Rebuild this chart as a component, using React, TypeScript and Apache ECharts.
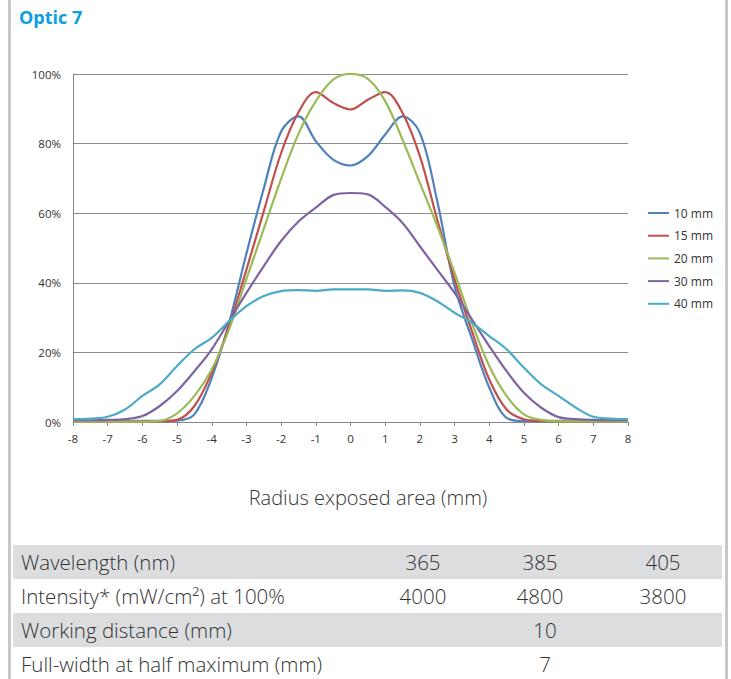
import React, { useEffect, useRef } from "react";
import * as echarts from "echarts";

const radius = [-8, -7.5, -7, -6.5, -6, -5.5, -5, -4.5, -4, -3.5, -3, -2.5, -2, -1.5, -1, -0.5, 0, 0.5, 1, 1.5, 2, 2.5, 3, 3.5, 4, 4.5, 5, 5.5, 6, 6.5, 7, 7.5, 8];

const mm10 = [0.3, 0.3, 0.3, 0.3, 0.3, 0.3, 0.4, 2.2, 12.7, 28.5, 48.4, 67.1, 83.5, 87.8, 80.7, 75.4, 73.7, 76.4, 82.6, 87.8, 83.1, 63.5, 39.0, 24.0, 9.9, 1.2, 0.3, 0.3, 0.3, 0.3, 0.3, 0.3, 0.3];
const mm15 = [0.2, 0.2, 0.2, 0.2, 0.2, 0.2, 0.6, 4.6, 14.2, 27.6, 43.8, 60.6, 77.3, 89.0, 94.8, 91.7, 89.8, 92.6, 94.8, 88.8, 76.4, 58.2, 41.0, 26.1, 12.2, 3.6, 0.8, 0.3, 0.2, 0.2, 0.2, 0.2, 0.2];
const mm20 = [0.1, 0.1, 0.1, 0.1, 0.1, 0.3, 2.5, 7.5, 15.1, 26.6, 41.1, 55.5, 69.9, 82.8, 92.2, 98.4, 100, 98.6, 92.2, 81.1, 68.7, 56.3, 42.9, 28.5, 16.1, 7.5, 2.2, 0.6, 0.2, 0.2, 0.2, 0.2, 0.2];
const mm30 = [0.5, 0.5, 0.6, 0.8, 1.7, 4.6, 8.9, 14.6, 20.9, 29.0, 37.1, 44.8, 52.0, 57.6, 61.6, 65.2, 65.8, 65.4, 61.8, 57.2, 50.5, 43.8, 37.1, 29.5, 21.8, 14.6, 8.4, 4.1, 1.4, 0.8, 0.6, 0.5, 0.5];
const mm40 = [0.8, 1.0, 1.5, 3.6, 7.5, 10.8, 16.1, 20.9, 24.2, 29.0, 33.3, 36.2, 37.6, 37.9, 37.7, 38.1, 38.1, 38.1, 37.7, 37.8, 37.1, 34.7, 31.4, 28.5, 24.7, 20.9, 15.6, 10.8, 7.5, 4.1, 1.5, 1.0, 0.8];

const seriesNames = ["10 mm", "15 mm", "20 mm", "30 mm", "40 mm"];
const seriesValues = [mm10, mm15, mm20, mm30, mm40];
const seriesColors = ["#4F81BD", "#C0504D", "#9BBB59", "#8064A2", "#4BACC6"];

const tableLabels = ["Wavelength (nm)", "Intensity* (mW/cm²) at 100%", "Working distance (mm)", "Full-width at half maximum (mm)"];
const wavelengths = ["365", "385", "405"];
const intensities = ["4000", "4800", "3800"];
const workingDistance = "10";
const fwhm = "7";

const FONT = "'Open Sans', 'Noto Sans', sans-serif";

export default function App() {
  const ref = useRef<HTMLDivElement>(null);
  useEffect(() => {
    if (!ref.current) return;
    const chart = echarts.init(ref.current, null, { renderer: "svg" });

    const rowTop = [545, 579, 613, 647];
    const rowH = 34;
    const colX = [423, 540, 663];
    const textColor = "#333333";
    const tableFont = `300 20.5px ${FONT}`;

    const graphic: any[] = [
      { type: "rect", shape: { x: 8, y: 0, width: 3, height: 679 }, style: { fill: "#c8c8c8" } },
      { type: "rect", shape: { x: 725, y: 0, width: 3, height: 679 }, style: { fill: "#c8c8c8" } },
      { type: "text", x: 19, y: 17, style: { text: "Optic 7", font: `bold 18px ${FONT}`, fill: "#0aa0e3", verticalAlign: "middle" } },
      { type: "text", x: 368, y: 497, style: { text: "Radius exposed area (mm)", font: `300 20px ${FONT}`, fill: "#333", align: "center", verticalAlign: "middle" } },
      { type: "rect", shape: { x: 13, y: rowTop[0], width: 709, height: rowH }, style: { fill: "#dcdddf" } },
      { type: "rect", shape: { x: 13, y: rowTop[2], width: 709, height: rowH }, style: { fill: "#dcdddf" } },
    ];
    tableLabels.forEach((t, i) => {
      graphic.push({ type: "text", x: 21, y: rowTop[i] + rowH / 2, style: { text: t, font: tableFont, fill: textColor, verticalAlign: "middle" } });
    });
    wavelengths.forEach((t, i) => {
      graphic.push({ type: "text", x: colX[i], y: rowTop[0] + rowH / 2, style: { text: t, font: tableFont, fill: textColor, align: "center", verticalAlign: "middle" } });
    });
    intensities.forEach((t, i) => {
      graphic.push({ type: "text", x: colX[i], y: rowTop[1] + rowH / 2, style: { text: t, font: tableFont, fill: textColor, align: "center", verticalAlign: "middle" } });
    });
    graphic.push({ type: "text", x: 545, y: rowTop[2] + rowH / 2, style: { text: workingDistance, font: tableFont, fill: textColor, align: "center", verticalAlign: "middle" } });
    graphic.push({ type: "text", x: 545, y: rowTop[3] + rowH / 2, style: { text: fwhm, font: tableFont, fill: textColor, align: "center", verticalAlign: "middle" } });

    chart.setOption({
      animation: false,
      backgroundColor: "#ffffff",
      textStyle: { fontFamily: FONT },
      grid: { left: 73, right: 103, top: 74, bottom: 257 },
      legend: {
        orient: "vertical",
        left: 643,
        top: 201,
        icon: "rect",
        itemWidth: 21,
        itemHeight: 2,
        itemGap: 8.7,
        data: seriesNames,
        textStyle: { fontSize: 12, lineHeight: 14, color: "#333", fontFamily: FONT },
      },
      xAxis: {
        type: "value",
        min: -8,
        max: 8,
        interval: 1,
        axisLine: { show: true, onZero: false, lineStyle: { color: "#868686", width: 1 } },
        axisTick: { show: true, length: 4, lineStyle: { color: "#868686" } },
        axisLabel: { fontSize: 11.5, color: "#333", margin: 10 },
        splitLine: { show: false },
      },
      yAxis: {
        type: "value",
        min: 0,
        max: 100,
        interval: 20,
        axisLine: { show: true, onZero: false, lineStyle: { color: "#868686", width: 1 } },
        axisTick: { show: false },
        axisLabel: { fontSize: 11.5, color: "#333", margin: 12, formatter: "{value}%" },
        splitLine: { show: true, lineStyle: { color: "#8c8c8c", width: 1 } },
      },
      series: seriesNames.map((name, i) => ({
        name,
        type: "line",
        smooth: 0.35,
        symbol: "none",
        color: seriesColors[i],
        lineStyle: { width: 2.2, color: seriesColors[i] },
        data: radius.map((x, j) => [x, seriesValues[i][j]]),
      })),
      graphic,
    });
    return () => chart.dispose();
  }, []);
  return <div ref={ref} style={{ position: "absolute", left: 0, top: 0, width: 731, height: 679 }} />;
}
